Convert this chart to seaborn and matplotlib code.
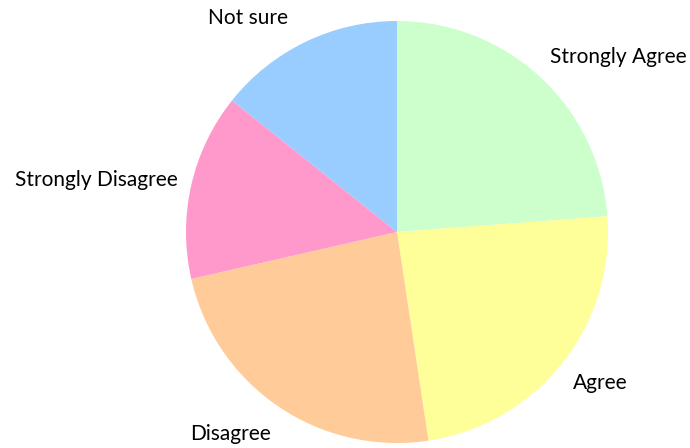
import matplotlib
matplotlib.use("Agg")
import matplotlib.pyplot as plt
import seaborn as sns

sns.set_theme(style="white")
plt.rcParams['font.family'] = ['Lato', 'DejaVu Sans']

categories = ["Strongly Agree", "Agree", "Disagree", "Strongly Disagree", "Not sure"]
values = [5, 5, 5, 3, 3]
colors = ["#CCFFCC", "#FFFF99", "#FFCC99", "#FF99CC", "#99CCFF"]

# label positions in pixels (layout)
label_px = [(618, 57), (600, 383), (230, 434), (96, 180), (248, 18)]

W, H = 690, 448
fig = plt.figure(figsize=(W / 100, H / 100), dpi=100)
cx, cy, r = 397, 232, 211
ax = fig.add_axes([(cx - r) / W, (H - cy - r) / H, 2 * r / W, 2 * r / H])
ax.pie(values, colors=colors, startangle=90, counterclock=False,
       wedgeprops=dict(linewidth=0))
ax.set_xlim(-1, 1)
ax.set_ylim(-1, 1)
ax.set_aspect('equal')
ax.axis('off')

for lab, (px, py) in zip(categories, label_px):
    fig.text(px / W, 1 - py / H, lab, ha='center', va='center',
             fontsize=15, color='#000000')

fig.savefig("out.png", dpi=100, facecolor='white')
